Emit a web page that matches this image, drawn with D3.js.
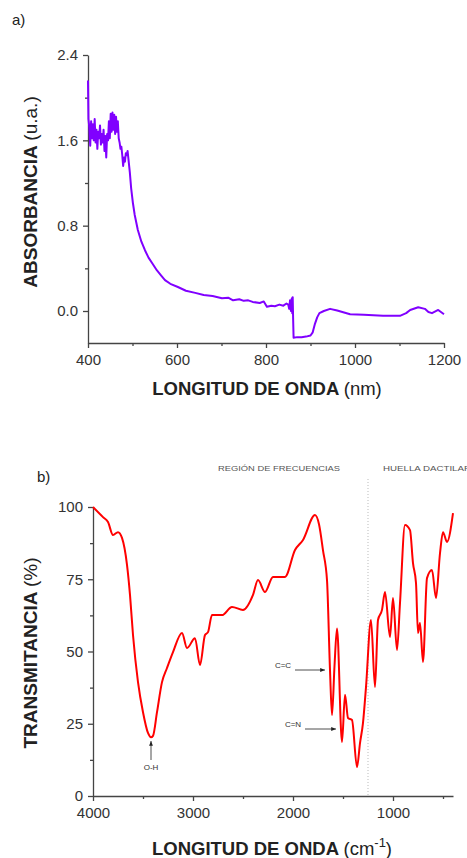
<!DOCTYPE html>
<html>
<head>
<meta charset="utf-8">
<script src="https://cdn.jsdelivr.net/npm/d3@7"></script>
<style>
  body { margin: 0; background: #fff; }
  svg { font-family: "Liberation Sans", Arial, sans-serif; }
  .axis path, .axis line { stroke: #444; stroke-width: 1.3px; }
  .axis text { fill: #333; font-size: 15px; }
</style>
</head>
<body>
<div id="chart-area"></div>
<script>
// ---- panel a: UV-Vis absorbance ----
const uvWavelength = [400, 401, 403, 405, 407, 409, 411, 413, 415, 417, 419, 421, 423, 425, 427, 429, 431, 433, 435, 437, 439, 441, 443, 445, 447, 449, 451, 453, 455, 457, 459, 461, 463, 465, 467, 469, 471, 473, 475, 477, 479, 481, 483, 485, 487, 489, 491, 494, 497, 501, 505, 512, 520, 528, 536, 544, 555, 565, 573, 585, 602, 620, 641, 660, 680, 701, 715, 726, 740, 750, 760, 770, 786, 795, 802, 812, 820, 830, 839, 846, 850, 852, 854, 856, 858, 859, 860, 861, 862, 870, 880, 890, 900, 905, 910, 915, 920, 930, 944, 960, 989, 1020, 1063, 1101, 1115, 1124, 1142, 1157, 1165, 1173, 1187, 1200]
const uvAbsorbance = [2.16, 1.80, 1.72, 1.55, 1.78, 1.62, 1.75, 1.60, 1.80, 1.58, 1.70, 1.52, 1.68, 1.62, 1.74, 1.56, 1.66, 1.58, 1.70, 1.50, 1.64, 1.44, 1.66, 1.60, 1.78, 1.62, 1.85, 1.68, 1.86, 1.70, 1.84, 1.66, 1.82, 1.68, 1.78, 1.62, 1.58, 1.52, 1.54, 1.46, 1.36, 1.44, 1.40, 1.48, 1.46, 1.50, 1.42, 1.30, 1.15, 1.01, 0.90, 0.76, 0.65, 0.57, 0.50, 0.45, 0.38, 0.33, 0.29, 0.255, 0.225, 0.19, 0.17, 0.15, 0.14, 0.12, 0.125, 0.10, 0.11, 0.095, 0.10, 0.085, 0.075, 0.09, 0.04, 0.05, 0.045, 0.06, 0.05, 0.07, 0.06, 0.02, 0.10, 0.0, 0.12, -0.02, 0.13, -0.08, -0.25, -0.245, -0.245, -0.24, -0.23, -0.20, -0.12, -0.06, -0.02, 0.0, 0.02, 0.005, -0.03, -0.035, -0.045, -0.045, -0.02, 0.01, 0.035, 0.02, -0.01, -0.02, 0.01, -0.03]
const uvXTicks = [400, 600, 800, 1000, 1200]
const uvXMinor = [500, 700, 900, 1100]
const uvYTicks = [0.0, 0.8, 1.6, 2.4]
const uvYMinor = [0.4, 1.2, 2.0]

// ---- panel b: FTIR transmittance ----
const irWavenumber = [4000, 3900, 3850, 3800, 3750, 3710, 3660, 3630, 3600, 3550, 3500, 3450, 3420, 3400, 3360, 3310, 3260, 3200, 3110, 3060, 2980, 2930, 2880, 2850, 2810, 2750, 2710, 2610, 2500, 2400, 2350, 2280, 2200, 2080, 1980, 1900, 1780, 1740, 1700, 1660, 1630, 1610, 1585, 1560, 1510, 1480, 1450, 1410, 1360, 1330, 1300, 1270, 1220, 1180, 1150, 1110, 1080, 1030, 1000, 960, 930, 880, 830, 800, 770, 750, 730, 700, 660, 610, 570, 530, 500, 460, 400]
const irTransmittance = [100, 96.5, 94.8, 90.3, 91.3, 89.3, 80, 69.6, 55.7, 39.4, 29, 21.8, 20.3, 20.8, 29, 39.4, 44.3, 49.8, 56.4, 51.2, 54.6, 45.3, 55.7, 56.7, 62.6, 62.6, 62.6, 65.4, 64.4, 69.6, 74.7, 70.6, 75.8, 75.8, 85.1, 88.6, 97.2, 94, 85, 74.7, 43.6, 28, 45, 58, 18.7, 35, 27, 26.3, 10, 18.3, 25.3, 37.7, 60.9, 37.7, 60.9, 64.4, 70.6, 55, 68.5, 50.5, 66.8, 93.8, 92, 80.6, 73.7, 56.4, 59.9, 46.4, 75.4, 78.2, 68.5, 84, 91.3, 87.9, 97.9]
const irXTicks = [4000, 3000, 2000, 1000]
const irXMinor = [3500, 2500, 1500, 500]
const irYTicks = [0, 25, 50, 75, 100]
const irYMinor = [12.5, 37.5, 62.5, 87.5]

const svg = d3.select("#chart-area").append("svg")
  .attr("width", 467)
  .attr("height", 858)

// ================= panel a =================
const xA = d3.scaleLinear().domain([400, 1200]).range([88, 444])
const yA = d3.scaleLinear().domain([-0.3, 2.4]).range([343, 55])

svg.append("text").attr("x", 12).attr("y", 25)
  .attr("font-size", "15px").attr("fill", "#222").text("a)")

svg.append("g").attr("class", "axis")
  .attr("transform", "translate(0,343)")
  .call(d3.axisBottom(xA).tickValues(uvXTicks).tickFormat(d3.format("d")).tickSize(5).tickSizeOuter(0).tickPadding(6))
svg.append("g").attr("class", "axis")
  .attr("transform", "translate(0,343)")
  .call(d3.axisBottom(xA).tickValues(uvXMinor).tickSize(3).tickSizeOuter(0).tickFormat(""))
  .select(".domain").remove()

svg.append("g").attr("class", "axis")
  .attr("transform", "translate(88,0)")
  .call(d3.axisLeft(yA).tickValues(uvYTicks).tickFormat(d3.format(".1f")).tickSize(5).tickSizeOuter(0).tickPadding(5))
svg.append("g").attr("class", "axis")
  .attr("transform", "translate(88,0)")
  .call(d3.axisLeft(yA).tickValues(uvYMinor).tickSize(3).tickSizeOuter(0).tickFormat(""))
  .select(".domain").remove()

const uvData = uvWavelength.map((w, i) => ({ x: w, y: uvAbsorbance[i] }))
svg.append("path")
  .datum(uvData)
  .attr("fill", "none")
  .attr("stroke", "#8000ff")
  .attr("stroke-width", 2)
  .attr("stroke-linejoin", "round")
  .attr("d", d3.line().x(d => xA(d.x)).y(d => yA(d.y)))

// axis labels a
const xla = svg.append("text").attr("x", 267).attr("y", 395)
  .attr("text-anchor", "middle").attr("font-size", "18.5px").attr("fill", "#222")
xla.append("tspan").attr("font-weight", "bold").text("LONGITUD DE ONDA ")
xla.append("tspan").text("(nm)")

const yla = svg.append("text")
  .attr("transform", "translate(37,192) rotate(-90)")
  .attr("text-anchor", "middle").attr("font-size", "19px").attr("fill", "#222")
yla.append("tspan").attr("font-weight", "bold").text("ABSORBANCIA ")
yla.append("tspan").text("(u.a.)")

// ================= panel b =================
const xB = d3.scaleLinear().domain([4000, 400]).range([93, 453])
const yB = d3.scaleLinear().domain([0, 100]).range([796, 507])

svg.append("text").attr("x", 37).attr("y", 482)
  .attr("font-size", "15px").attr("fill", "#222").text("b)")

// region labels
svg.append("text").attr("x", 279).attr("y", 471)
  .attr("text-anchor", "middle").attr("font-size", "8px").attr("fill", "#555")
  .attr("textLength", 122).attr("lengthAdjust", "spacingAndGlyphs")
  .text("REGIÓN DE FRECUENCIAS")
svg.append("text").attr("x", 383).attr("y", 471)
  .attr("font-size", "8px").attr("fill", "#555")
  .attr("textLength", 88).attr("lengthAdjust", "spacingAndGlyphs")
  .text("HUELLA DACTILAR")

// dotted divider at 1250 cm-1
svg.append("line")
  .attr("x1", xB(1250)).attr("x2", xB(1250))
  .attr("y1", 479).attr("y2", 796)
  .attr("stroke", "#bbb").attr("stroke-width", 1)
  .attr("stroke-dasharray", "1,2")

svg.append("g").attr("class", "axis")
  .attr("transform", "translate(0,796)")
  .call(d3.axisBottom(xB).tickValues(irXTicks).tickFormat(d3.format("d")).tickSize(5).tickSizeOuter(0).tickPadding(6))
svg.append("g").attr("class", "axis")
  .attr("transform", "translate(0,796)")
  .call(d3.axisBottom(xB).tickValues(irXMinor).tickSize(3).tickSizeOuter(0).tickFormat(""))
  .select(".domain").remove()

svg.append("g").attr("class", "axis")
  .attr("transform", "translate(93,0)")
  .call(d3.axisLeft(yB).tickValues(irYTicks).tickSize(5).tickSizeOuter(0).tickPadding(5))
svg.append("g").attr("class", "axis")
  .attr("transform", "translate(93,0)")
  .call(d3.axisLeft(yB).tickValues(irYMinor).tickSize(3).tickSizeOuter(0).tickFormat(""))
  .select(".domain").remove()

const irData = irWavenumber.map((w, i) => ({ x: w, y: irTransmittance[i] }))
svg.append("path")
  .datum(irData)
  .attr("fill", "none")
  .attr("stroke", "#ff0000")
  .attr("stroke-width", 2)
  .attr("stroke-linejoin", "round")
  .attr("d", d3.line().x(d => xB(d.x)).y(d => yB(d.y)).curve(d3.curveMonotoneX))

// annotations
svg.append("defs").append("marker")
  .attr("id", "arrow").attr("viewBox", "0 0 10 10")
  .attr("refX", 10).attr("refY", 5)
  .attr("markerWidth", 6).attr("markerHeight", 6)
  .attr("orient", "auto")
  .append("path").attr("d", "M0,1 L10,5 L0,9 z").attr("fill", "#222")

function annotate(label, tx, ty, x1, y1, x2, y2) {
  svg.append("text").attr("x", tx).attr("y", ty)
    .attr("text-anchor", "middle").attr("font-size", "8px")
    .style("fill", "#333")
    .text(label)
  svg.append("line")
    .attr("x1", x1).attr("y1", y1).attr("x2", x2).attr("y2", y2)
    .attr("stroke", "#222").attr("stroke-width", 0.8)
    .attr("marker-end", "url(#arrow)")
}
annotate("O-H", xB(3420), 770, xB(3420), 760, xB(3420), 741)
annotate("C=C", 283, 668, 295, 670, 325, 670)
annotate("C=N", 293, 727, 305, 729, 336, 729)

// axis labels b
const xlb = svg.append("text").attr("x", 272).attr("y", 855)
  .attr("text-anchor", "middle").attr("font-size", "18.5px").attr("fill", "#222")
xlb.append("tspan").attr("font-weight", "bold").text("LONGITUD DE ONDA ")
xlb.append("tspan").text("(cm")
xlb.append("tspan").attr("font-size", "13px").attr("dy", -8).text("-1")
xlb.append("tspan").attr("dy", 8).text(")")

const ylb = svg.append("text")
  .attr("transform", "translate(37,653) rotate(-90)")
  .attr("text-anchor", "middle").attr("font-size", "19px").attr("fill", "#222")
ylb.append("tspan").attr("font-weight", "bold").text("TRANSMITANCIA ")
ylb.append("tspan").text("(%)")
</script>
</body>
</html>
